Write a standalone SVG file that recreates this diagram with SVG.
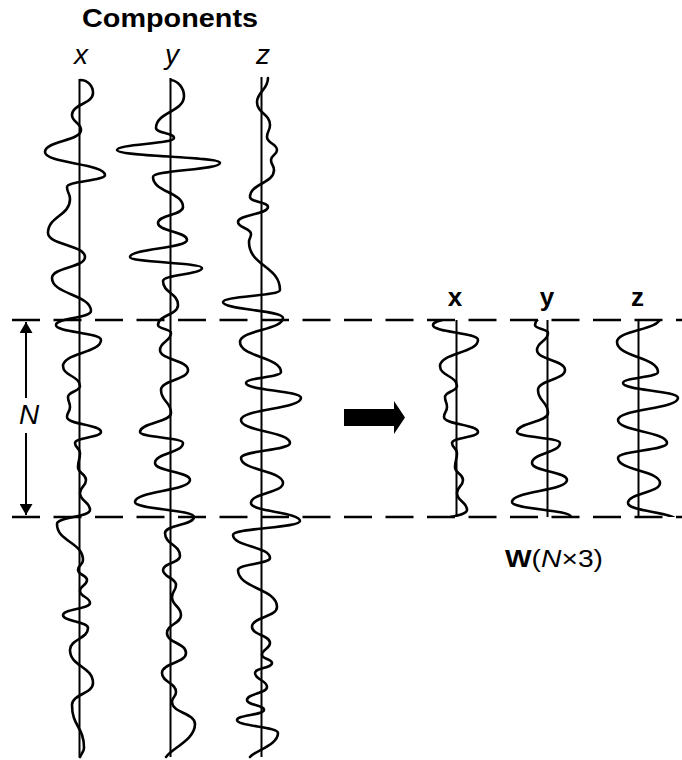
<svg xmlns="http://www.w3.org/2000/svg" xmlns:xlink="http://www.w3.org/1999/xlink" width="682" height="760" viewBox="0 0 682 760">
<style>
.axis{stroke:#000;stroke-width:2;fill:none}
.trace{stroke:#000;stroke-width:2.6;fill:none;stroke-linejoin:round;stroke-linecap:round}
.dash{stroke:#000;stroke-width:2.6;stroke-dasharray:28 13.5;fill:none}
.lbl{font-family:"Liberation Sans",Arial,Helvetica,sans-serif;fill:#000}
.it{font-style:italic}
.bd{font-weight:bold}
</style>
<defs>
<marker id="ah" viewBox="0 0 11 13" refX="11" refY="6.5" markerWidth="11" markerHeight="13" markerUnits="userSpaceOnUse" orient="auto">
<path d="M0,0 L11,6.5 L0,13 z" fill="#000"/>
</marker>
<clipPath id="win" clipPathUnits="userSpaceOnUse"><rect x="-1000" y="320" width="3000" height="197"/></clipPath>
<path id="trX" d="M80,80 C88,80 93,86 93,93 C93,104 72,104 72,115 C72,122.5 81,122.5 81,130 C81,141 45,141 45,152 C45,163.5 105,163.5 105,175 C105,181 67,181 67,187 C67,193 70,193 70,199 C70,216 48,216 48,233 C48,245 85,245 85,257 C85,267.5 52,267.5 52,278 C52,294.5 91,294.5 91,311 C91,318 56,318 56,325 C56,332.5 101,332.5 101,340 C101,353 63,353 63,366 C63,376 80,376 80,386 C80,391.5 68,391.5 68,397 C68,402 70,402 70,407 C70,412 67,412 67,417 C67,424.5 101,424.5 101,432 C101,437.5 75,437.5 75,443 C75,448 80,448 80,453 C80,460 78,460 78,467 C78,473.5 86,473.5 86,480 C86,486.5 80,486.5 80,493 C80,501.5 90,501.5 90,510 C90,517 57,517 57,524 C57,542 83,542 83,560 C83,565 78,565 78,570 C78,575 87,575 87,580 C87,585.5 80,585.5 80,591 C80,597 90,597 90,603 C90,609 63,609 63,615 C63,621.5 88,621.5 88,628 C88,639 70,639 70,650 C70,666.5 93,666.5 93,683 C93,694 72,694 72,705 C72,726.5 84,726.5 84,748 C84,752 81,754 80,757"/>
<path id="trY" d="M171,80 C178,81 184,88 184,96 C184,112 156,112 156,128 C156,133 174,133 174,138 C174,144 117,144 117,150 C117,156.5 220,156.5 220,163 C220,170 153,170 153,177 C153,192 183,192 183,207 C183,215 158,215 158,223 C158,231.5 187,231.5 187,240 C187,248.5 130,248.5 130,257 C130,262.5 202,262.5 202,268 C202,274.5 163,274.5 163,281 C163,293 178,293 178,305 C178,315 158,315 158,325 C158,329 171,329 171,333 C171,341.5 160,341.5 160,350 C160,360 188,360 188,370 C188,380 161,380 161,390 C161,401.5 171,401.5 171,413 C171,422.5 140,422.5 140,432 C140,437.5 183,437.5 183,443 C183,453 155,453 155,463 C155,471.5 190,471.5 190,480 C190,491 135,491 135,502 C135,509.5 194,509.5 194,517 C194,525 165,525 165,533 C165,544.5 180,544.5 180,556 C180,563 163,563 163,570 C163,577.5 176,577.5 176,585 C176,591 172,591 172,597 C172,606 181,606 181,615 C181,624 167,624 167,633 C167,643 186,643 186,653 C186,663 162,663 162,673 C162,682.5 176,682.5 176,692 C176,697 172,697 172,702 C172,713 195,713 195,724 C195,740 172,748 166,757"/>
<path id="trZ" d="M268,78 C268,90 257,92 257,102 C257,113.5 270,113.5 270,125 C270,131 267,131 267,137 C267,143.5 277,143.5 277,150 C277,155 271,155 271,160 C271,165 274,165 274,170 C274,183.5 250,183.5 250,197 C250,202 268,202 268,207 C268,214.5 238,214.5 238,222 C238,228 251,228 251,234 C251,238 249,238 249,242 C249,266 280,266 280,290 C280,296 223,296 223,302 C223,310 283,310 283,318 C283,330 240,330 240,342 C240,357 281,357 281,372 C281,377.5 246,377.5 246,383 C246,390.5 301,390.5 301,398 C301,409 241,409 241,420 C241,431.5 290,431.5 290,443 C290,450.5 241,450.5 241,458 C241,470.5 283,470.5 283,483 C283,493 251,493 251,503 C251,512 300,512 300,521 C300,528 233,528 233,535 C233,546.5 270,546.5 270,558 C270,564 238,564 238,570 C238,588.5 277,588.5 277,607 C277,617 252,617 252,627 C252,635 270,635 270,643 C270,649 262,649 262,655 C262,659 272,659 272,663 C272,668 255,668 255,673 C255,680 267,680 267,687 C267,693.5 247,693.5 247,700 C247,705 264,705 264,710 C264,715 237,715 237,720 C237,726.5 278,726.5 278,733 C278,745 256,750 250,757"/>
</defs>
<rect width="682" height="760" fill="#fff"/>
<g id="title">
<text class="lbl bd" x="170" y="27" font-size="26" text-anchor="middle" textLength="176" lengthAdjust="spacingAndGlyphs">Components</text>
</g>
<g id="component-x">
<text class="lbl it" x="81" y="64" font-size="28" text-anchor="middle">x</text>
<line class="axis" x1="79.5" y1="79" x2="79.5" y2="757"/>
<use xlink:href="#trX" class="trace"/>
</g>
<g id="component-y">
<text class="lbl it" x="172" y="64" font-size="28" text-anchor="middle">y</text>
<line class="axis" x1="170.5" y1="78" x2="170.5" y2="757"/>
<use xlink:href="#trY" class="trace"/>
</g>
<g id="component-z">
<text class="lbl it" x="263" y="64" font-size="28" text-anchor="middle">z</text>
<line class="axis" x1="261.5" y1="77" x2="261.5" y2="757"/>
<use xlink:href="#trZ" class="trace"/>
</g>
<g id="window-x">
<text class="lbl bd" x="455" y="306" font-size="26" text-anchor="middle">x</text>
<line class="axis" x1="456.5" y1="320" x2="456.5" y2="517"/>
<use xlink:href="#trX" class="trace" transform="translate(377,0)" clip-path="url(#win)"/>
</g>
<g id="window-y">
<text class="lbl bd" x="547" y="306" font-size="26" text-anchor="middle">y</text>
<line class="axis" x1="547.5" y1="320" x2="547.5" y2="517"/>
<use xlink:href="#trY" class="trace" transform="translate(377,0)" clip-path="url(#win)"/>
</g>
<g id="window-z">
<text class="lbl bd" x="637.5" y="306" font-size="26" text-anchor="middle">z</text>
<line class="axis" x1="638.5" y1="320" x2="638.5" y2="517"/>
<use xlink:href="#trZ" class="trace" transform="translate(377,0)" clip-path="url(#win)"/>
</g>
<g id="matrix-label">
<text class="lbl" x="505" y="567" font-size="23" textLength="98" lengthAdjust="spacingAndGlyphs"><tspan class="bd">W</tspan>(<tspan class="it">N</tspan>×3)</text>
</g>
<g id="connectors">
<line class="dash" x1="12" y1="320" x2="682" y2="320"/>
<line class="dash" x1="12" y1="517" x2="682" y2="517"/>
<line x1="26" y1="398" x2="26" y2="322" stroke="#000" stroke-width="2" marker-end="url(#ah)"/>
<line x1="26" y1="433" x2="26" y2="515" stroke="#000" stroke-width="2" marker-end="url(#ah)"/>
<text class="lbl it" x="29" y="424" font-size="28" text-anchor="middle">N</text>
<polygon points="344,409 394,409 394,401 405,417.5 394,434 394,426 344,426" fill="#000"/>
</g>
</svg>
